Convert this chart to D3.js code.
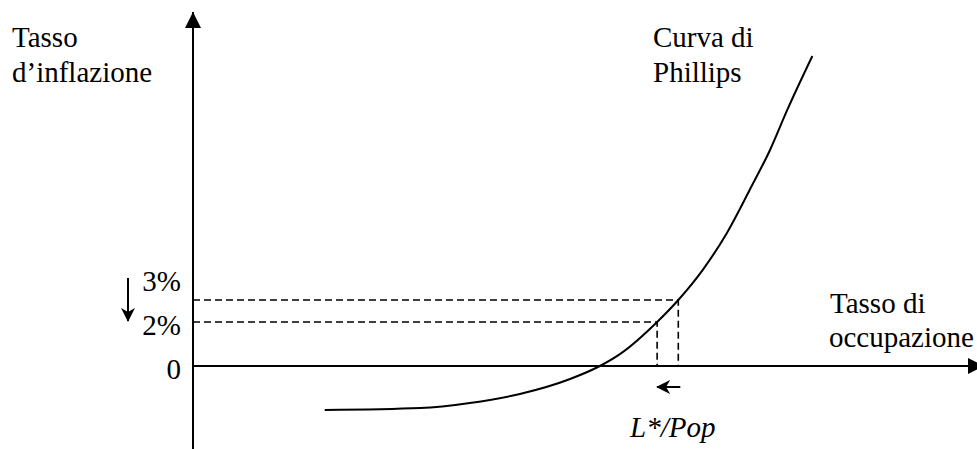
<!DOCTYPE html>
<html>
<head>
<meta charset="utf-8">
<script src="https://cdn.jsdelivr.net/npm/d3@7"></script>
<style>
  body { margin: 0; background: #fff; }
  svg { display: block; }
  text { font-family: "Liberation Serif", "Times New Roman", serif; font-size: 29px; fill: #000; }
</style>
</head>
<body>
<div id="chart"></div>
<script>
// Phillips curve, x = employment rate (arbitrary units), y = inflation (%)
const curveX = [16.8, 29.0, 35.3, 41.7, 48.1, 51.9, 54.5, 59.2, 61.9, 65.0, 68.1, 71.0, 73.6, 75.8, 79.0];
const curveY = [-2.0, -1.91, -1.68, -1.27, -0.59, 0, 0.55, 2.0, 3.0, 4.36, 6.05, 8.0, 9.82, 11.64, 14.09];

const levels = [3, 2];           // inflation levels with dashed guides
const levelLabels = ["3%", "2%"];
const zeroLabel = "0";
const levelX = [61.9, 59.2];     // employment where the curve hits each level

const yAxisTitle = ["Tasso", "d\u2019inflazione"];
const xAxisTitle = ["Tasso di", "occupazione"];
const curveTitle = ["Curva di", "Phillips"];
const eqLabel = "L*/Pop";

const width = 977, height = 449;
const originX = 193, originY = 366;

const x = d3.scaleLinear().domain([0, 100]).range([originX, 977]);
const y = d3.scaleLinear().domain([0, 3]).range([originY, 300]);

const svg = d3.select("#chart").append("svg")
  .attr("width", width)
  .attr("height", height);

const defs = svg.append("defs");
defs.append("marker")
  .attr("id", "big")
  .attr("viewBox", "0 0 16 16")
  .attr("refX", 16).attr("refY", 8)
  .attr("markerWidth", 16).attr("markerHeight", 16)
  .attr("markerUnits", "userSpaceOnUse")
  .attr("orient", "auto")
  .append("path").attr("d", "M0,0 L16,8 L0,16 Z").attr("fill", "#000");
defs.append("marker")
  .attr("id", "dart")
  .attr("viewBox", "0 0 14 14")
  .attr("refX", 13).attr("refY", 7)
  .attr("markerWidth", 14).attr("markerHeight", 14)
  .attr("markerUnits", "userSpaceOnUse")
  .attr("orient", "auto")
  .append("path").attr("d", "M0,0 L14,7 L0,14 L4,7 Z").attr("fill", "#000");

// axes
svg.append("line")
  .attr("x1", x(0)).attr("y1", height)
  .attr("x2", x(0)).attr("y2", 12)
  .attr("stroke", "#000").attr("stroke-width", 2)
  .attr("marker-end", "url(#big)");
svg.append("line")
  .attr("x1", x(0)).attr("y1", y(0))
  .attr("x2", 984).attr("y2", y(0))
  .attr("stroke", "#000").attr("stroke-width", 2)
  .attr("marker-end", "url(#big)");

// dashed guides
const labelShift = [-9, 13];
levels.forEach((lv, i) => {
  svg.append("path")
    .attr("d", `M${x(0)},${y(lv)} H${x(levelX[i])} V${y(0)}`)
    .attr("fill", "none")
    .attr("stroke", "#000")
    .attr("stroke-width", 1.6)
    .attr("stroke-dasharray", "7,4");
  svg.append("text")
    .attr("x", 181).attr("y", y(lv) + labelShift[i])
    .attr("text-anchor", "end")
    .text(levelLabels[i]);
});
svg.append("text")
  .attr("x", 181).attr("y", y(0) + 13)
  .attr("text-anchor", "end")
  .text(zeroLabel);

// the curve
const pts = curveX.map((d, i) => [d, curveY[i]]);
svg.append("path")
  .datum(pts)
  .attr("fill", "none")
  .attr("stroke", "#000")
  .attr("stroke-width", 2)
  .attr("d", d3.line().x(d => x(d[0])).y(d => y(d[1])).curve(d3.curveMonotoneX));

// small movement arrows
svg.append("line")
  .attr("x1", 128).attr("y1", y(4.0))
  .attr("x2", 128).attr("y2", y(2.05))
  .attr("stroke", "#000").attr("stroke-width", 2)
  .attr("marker-end", "url(#dart)");
svg.append("line")
  .attr("x1", x(levelX[0]) + 2).attr("y1", 387)
  .attr("x2", x(levelX[1])).attr("y2", 387)
  .attr("stroke", "#000").attr("stroke-width", 2)
  .attr("marker-end", "url(#dart)");

// texts
svg.append("text").attr("x", 12).attr("y", 47).text(yAxisTitle[0]);
svg.append("text").attr("x", 12).attr("y", 82).text(yAxisTitle[1]);
svg.append("text").attr("x", 830).attr("y", 313).text(xAxisTitle[0]);
svg.append("text").attr("x", 829).attr("y", 347).text(xAxisTitle[1]);
svg.append("text").attr("x", 653).attr("y", 47).text(curveTitle[0]);
svg.append("text").attr("x", 653).attr("y", 82).text(curveTitle[1]);
svg.append("text").attr("x", 630).attr("y", 437)
  .style("font-style", "italic")
  .text(eqLabel);
</script>
</body>
</html>
